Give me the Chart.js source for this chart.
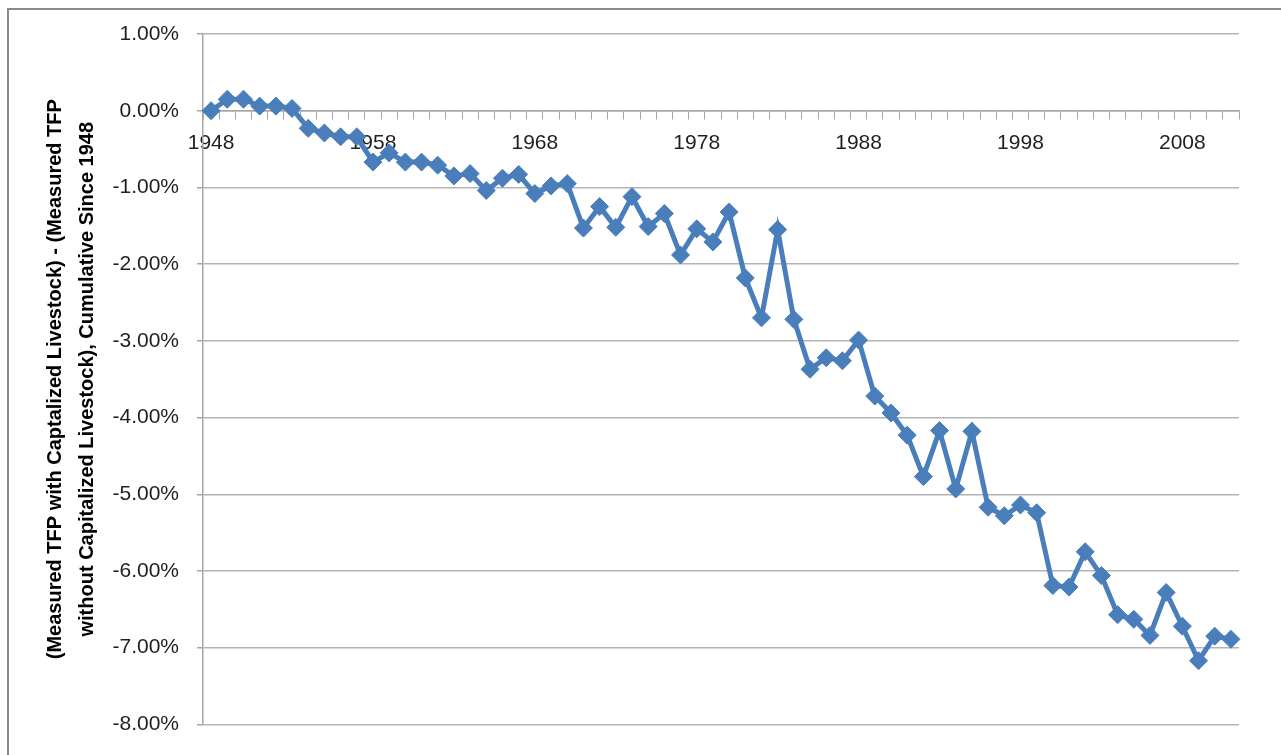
<!DOCTYPE html>
<html>
<head>
<meta charset="utf-8">
<title>Capitalized Livestock TFP Difference</title>
<script src="https://cdn.jsdelivr.net/npm/chart.js@4.4.1/dist/chart.umd.min.js"></script>
<style>
  html, body { margin: 0; padding: 0; background: #ffffff; overflow: hidden; }
  #wrap { position: relative; width: 1281px; height: 755px; }
</style>
</head>
<body>
<div id="wrap"><canvas id="chart" width="1281" height="755"></canvas></div>
<script>
// Years 1948-2011
const years = [
  1948, 1949, 1950, 1951, 1952, 1953, 1954, 1955, 1956, 1957,
  1958, 1959, 1960, 1961, 1962, 1963, 1964, 1965, 1966, 1967,
  1968, 1969, 1970, 1971, 1972, 1973, 1974, 1975, 1976, 1977,
  1978, 1979, 1980, 1981, 1982, 1983, 1984, 1985, 1986, 1987,
  1988, 1989, 1990, 1991, 1992, 1993, 1994, 1995, 1996, 1997,
  1998, 1999, 2000, 2001, 2002, 2003, 2004, 2005, 2006, 2007,
  2008, 2009, 2010, 2011
];

// Cumulative TFP difference since 1948, in percent
const tfpDifference = [
   0.00,  0.15,  0.15,  0.06,  0.06,  0.03, -0.23, -0.29, -0.34, -0.34,
  -0.67, -0.55, -0.67, -0.67, -0.71, -0.85, -0.82, -1.04, -0.88, -0.83,
  -1.08, -0.98, -0.95, -1.53, -1.25, -1.52, -1.12, -1.51, -1.34, -1.88,
  -1.54, -1.71, -1.32, -2.18, -2.70, -1.55, -2.72, -3.37, -3.22, -3.26,
  -2.99, -3.72, -3.94, -4.23, -4.77, -4.17, -4.93, -4.18, -5.17, -5.28,
  -5.14, -5.24, -6.19, -6.21, -5.75, -6.06, -6.57, -6.63, -6.84, -6.28,
  -6.72, -7.17, -6.85, -6.89
];

// Axis settings
const yMin = -8;
const yMax = 1;
const yStep = 1;
const labelEvery = 10;

const yTitle = [
  '(Measured TFP with Captalized Livestock) - (Measured TFP',
  'without Capitalized Livestock), Cumulative Since 1948'
];

const lineColor = '#4a7ebb';
const gridColor = '#b3b3b3';
const axisColor = '#a6a6a6';
const textColor = '#1f1f1f';

// Outer chart frame
const framePlugin = {
  id: 'frame',
  afterDraw(chart) {
    const ctx = chart.ctx;
    ctx.save();
    ctx.strokeStyle = '#8a8a8a';
    ctx.lineWidth = 2;
    ctx.strokeRect(8, 9, chart.width + 20, chart.height + 20);
    ctx.restore();
  }
};

new Chart(document.getElementById('chart'), {
  type: 'line',
  data: {
    labels: years.map(String),
    datasets: [{
      data: tfpDifference,
      borderColor: lineColor,
      backgroundColor: lineColor,
      borderWidth: 5,
      pointStyle: 'rectRot',
      pointRadius: 9,
      pointHoverRadius: 9,
      pointBorderWidth: 1,
      pointBorderColor: lineColor,
      pointBackgroundColor: lineColor,
      tension: 0,
      fill: false
    }]
  },
  options: {
    responsive: false,
    animation: false,
    events: [],
    layout: { padding: { left: 0, top: 34, right: 42, bottom: 22 } },
    plugins: {
      legend: { display: false },
      tooltip: { enabled: false },
      title: { display: false }
    },
    scales: {
      x: {
        type: 'category',
        position: { y: 0 },
        offset: true,
        grid: {
          offset: true,
          drawOnChartArea: false,
          drawTicks: true,
          tickLength: 8,
          tickColor: axisColor,
          lineWidth: 1
        },
        border: { display: true, color: axisColor, width: 1.5 },
        ticks: {
          autoSkip: false,
          maxRotation: 0,
          padding: 12,
          color: textColor,
          font: { family: '"Liberation Sans", Arial, sans-serif', size: 21 },
          callback(value, index) {
            return (years[index] - years[0]) % labelEvery === 0 ? String(years[index]) : '';
          }
        }
      },
      y: {
        min: yMin,
        max: yMax,
        afterFit(scale) { scale.width = 203; },
        grid: {
          color: gridColor,
          lineWidth: 1.5,
          drawTicks: true,
          tickLength: 6,
          tickColor: axisColor
        },
        border: { display: true, color: axisColor, width: 1.5 },
        ticks: {
          stepSize: yStep,
          padding: 18,
          color: textColor,
          font: { family: '"Liberation Sans", Arial, sans-serif', size: 21 },
          callback(value) { return value.toFixed(2) + '%'; }
        },
        title: {
          display: true,
          text: yTitle,
          color: '#000000',
          padding: { top: 39, bottom: 0 },
          font: { family: '"Liberation Sans", Arial, sans-serif', size: 20, weight: 'bold', lineHeight: 1.6 }
        }
      }
    }
  },
  plugins: [framePlugin]
});
</script>
</body>
</html>
